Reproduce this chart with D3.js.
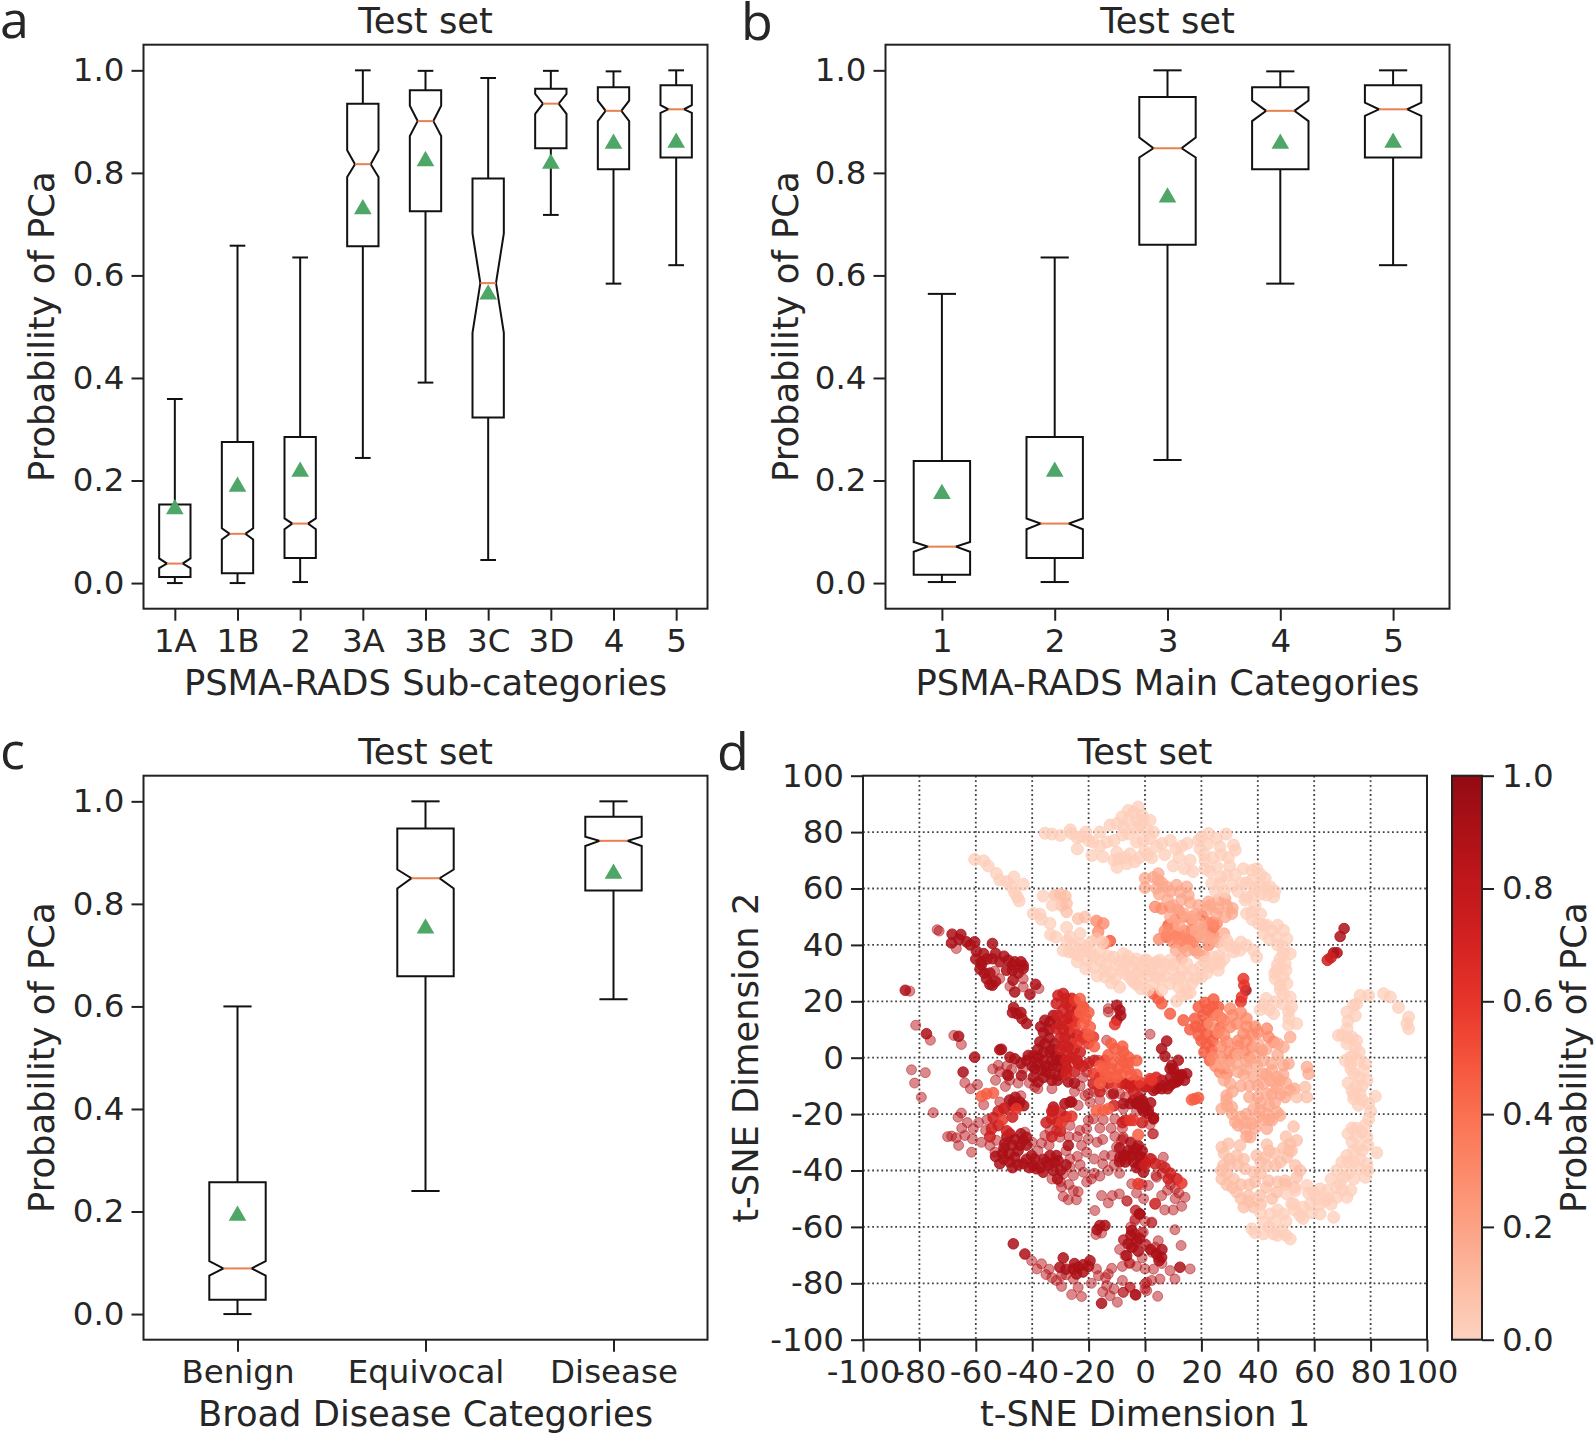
<!DOCTYPE html>
<html><head><meta charset="utf-8">
<script src="https://cdn.jsdelivr.net/npm/d3@7"></script>
<style>html,body{margin:0;padding:0;background:#fff;overflow:hidden}svg{display:block}text{font-family:"DejaVu Sans";fill:#262626}.letter{font-family:"Open Sans"}</style>
</head><body><svg id="c" width="1594" height="1434"></svg>
<script>
// box stats columns: whisker low, q1, notch low, median, notch high, q3, whisker high, mean
const subCategories=["1A","1B","2","3A","3B","3C","3D","4","5"];
const subStats=[
[0.0,0.012,0.029,0.038,0.048,0.153,0.359,0.146],
[0.0,0.019,0.085,0.096,0.107,0.275,0.658,0.19],
[0.002,0.049,0.105,0.116,0.126,0.285,0.635,0.219],
[0.244,0.657,0.792,0.817,0.844,0.935,1.0,0.731],
[0.391,0.725,0.872,0.901,0.931,0.961,0.999,0.825],
[0.045,0.323,0.488,0.585,0.682,0.789,0.985,0.565],
[0.718,0.848,0.915,0.935,0.954,0.964,0.999,0.82],
[0.584,0.807,0.901,0.921,0.941,0.967,0.998,0.859],
[0.62,0.83,0.917,0.924,0.932,0.971,1.0,0.861]];
const mainCategories=["1","2","3","4","5"];
const mainStats=[
[0.002,0.016,0.061,0.071,0.08,0.238,0.564,0.176],
[0.002,0.049,0.105,0.116,0.126,0.285,0.635,0.219],
[0.24,0.66,0.83,0.848,0.869,0.948,1.0,0.754],
[0.584,0.807,0.901,0.921,0.941,0.967,0.998,0.859],
[0.62,0.83,0.911,0.924,0.937,0.971,1.0,0.861]];
const broadCategories=["Benign","Equivocal","Disease"];
const broadStats=[
[0.0,0.028,0.075,0.089,0.103,0.257,0.6,0.194],
[0.24,0.659,0.83,0.85,0.867,0.947,1.0,0.754],
[0.614,0.826,0.913,0.923,0.931,0.97,1.0,0.861]];
const probTicks=[0,0.2,0.4,0.6,0.8,1];
const tsneTicks=[-100,-80,-60,-40,-20,0,20,40,60,80,100];

// t-SNE points, grouped by colour level
const palePts=[[-60.4,70.3],[-57.2,69.8],[-55.6,68],[-52.7,65.3],[-51.5,63],[-49,62.4],[-46.5,64.1],[-43.2,61.5],[-47.3,60.6],[-46.2,58.5],[-44.6,55.6],[-45.3,57],
[-39.6,51.1],[-37.3,50.9],[-36.7,49.1],[-36.1,57.3],[-32.8,54.1],[-33.7,47.6],[-33.5,43.6],[-31.6,42.8],[-27.8,46.2],[-26.6,42.8],
[-35.5,79.6],[-33,79.3],[-30,78.8],[-26.5,80.8],[-26,79.5],[-24,74],[-22.5,78.4],[-21,80],[-18.5,76.5],[-16,80],[-13.5,76.5],[-18.8,71.7],[-14.9,71.3],[-10,72.8],[-9.3,70.5],[-9.9,67.5],[-6.4,68.8],[-5.3,72.3],[-3.6,69.5],
[-12.4,82.5],[-10,83],[-7.6,81.9],[-8.2,85.4],[-5.9,87.7],[-2.4,88.9],[-2.9,84.2],[-.6,84.2],[1.8,84.2],[-1.8,82.4],[-5.9,79.4],[-3,76.5],[-.6,77.1],[1.8,77.7],[4.1,74.9],[2.4,70.9],[-.1,73.3],
[-27.6,41.4],[-25.4,39.9],[-23,40.5],[-26.9,37.5],[-23.8,36.3],[-20.7,34.6],[-19.5,37.5],[-20.7,39.3],[-16,34.6],[-14.2,31],[-14.2,28.6],[-11.2,35.7],[-7.7,36.9],[-10,32.8],[-6.5,34],[-7.1,29.8],[-10.7,28],[-3,29.8],[-.6,32.2],[.6,34.6],[2.4,31],[-1.2,27.5],[-1.4,24.5],[-4.1,26.9],[4.1,34],
[-4.1,34],[0,34.6],[1.8,31],[5.3,34.6],[8.9,34.6],[5.3,28],[10.1,31],[8.9,26.3],[12.4,28.6],[14.2,25],[11.2,20.1],[14.8,22.7],[16.6,26.3],[20.1,28.6],[23,32.2],[26.6,33.4],[24.3,35.7],[29,41.7],[27.8,39.3],[31.4,37.5],[36,39.9],[38.5,38.1],[39.6,35.7],[33.7,38.1],[19.5,32.2],[14.8,33.4],
[20.1,78.3],[22.5,79.5],[25.4,77.8],[28.8,79.3],[19.5,74.1],[22.1,75.7],[26.6,74.8],[31.4,75.4],[32,73.6],[21.3,70],[29.6,71],[21.3,67],[25.4,67.7],[29,64.7],[23.7,61.8],[26.6,61.8],[34.9,67],[37.9,66.5],[39.6,67],[34.3,61.8],[37.9,63],[42.6,63.6],[40.8,61.2],[44.4,60.6],[45.6,57],[43.2,57.7],[38.5,58.1],[35.5,55.9],[37.9,51.7],[36,51.1],[40.2,47.6],[43.2,47],[42,44],[46.7,42.8],[49.1,45.2],[50.3,42.2],[49.1,39.3],[51.5,36.9],[47.9,35.1],[49.7,33.4],[46.7,31],[46.2,28],[49.1,28.6],[47.9,25.7],[50.3,26.3],[51.5,21.5],[49.1,22.7],[50.9,16.3],[53.8,12.1],[50.9,11.6],[42,18.6],[46.2,19.8],[40.8,17],[45.6,15.6],
[76.3,22.1],[79.3,22.1],[84.6,22.7],[87,21.5],[89.9,17.8],[93.5,14.4],[93.5,10.3],[92.9,12.1],[74,18.6],[71.6,16.2],[74.6,14.9],[68.6,7.9],[71.6,10.3],[73.4,7.3],[71.6,4.9],[74.6,3.8],[72.8,.2],[75.8,-.9],[78.1,-2.1],
[72.8,-2.1],[77.5,-4.5],[74,-5.7],[78.7,-8],[73.4,-11.6],[76.3,-12.8],[74,-14.6],[79.3,-16.3],[81.7,-13.7],[75.7,-16.9],[79.3,-21.7],[73.4,-24.9],[76.9,-26.4],[78.7,-28.2],[73.4,-29.9],[75.7,-31.7],[82.2,-33.7],[71.6,-34.7],[76.3,-35.9],[78.7,-37.6],[69.8,-37],[75.7,-39.4],[68,-40],[70.4,-42.4],[74,-43],[78.1,-42.4],[69.2,-44.7],[71.6,-49.5],[68,-49.5],[64.5,-47.1],[62.1,-46.5],[57.4,-45.3],[60.9,-50],[63.9,-50.7],[66.9,-56.6],[62.1,-55.4],[58.6,-51.8],[55,-56],[52,-51.8],[49.1,-55.4],[44.4,-55.4],[42,-58.3],[37.9,-60.7],[42,-62.5],[45.6,-62.5],[51.5,-64.3],[48.5,-61.3],[52.7,-51.8],[53.3,-47.1],[50.3,-48.3]];
const palePtsB=[[-25,37],[-22,38],[-24,34],[-21,31.5],[-18,36],[-18,32],[-16,37.5],[-13,36],[-14,33],[-12,30],[-12,26.5],[-9,34],[-8,31],[-5,32],[-3,35],[-5,28],[-2,31],[-3,26],[1,29],[3,33],[4,28.5],[6,31],[7,33],[3,26],[6,24],[7,29],[10,33],[11,28],[13,31],[12,25],[15,29],[17,31],[13,22],[16,23],[18,28],[22,30],[24,33],[21,34],[26,36],[28,35],[30,40],[32,39],[34,41],[26,31],[1,24],[-6,36],[-15,41],[-19,41],[-23,44],[-29,38],[-17,29],[-9,25],
[-6,84],[-4,87],[-1,86],[.5,81],[3,80],[-3,81],[-8,79],[-11,77],[-16,75],[-20,77],[-24,78],[-11,70],[-7,71],[-2,71],[1,72],[6,76],[7,72],[9,77],[11,74],[13,75],[15,76],[12,71],[10,68],[16,70],[14,67],[17,66],
[19,77],[21,72],[24,71],[27,72],[30,68],[23,66],[27,64],[32,65],[28,59],[25,59],[31,61],[33,59],[36,57],[39,60],[41,58],[36,62],[41,65],[43,60],[46,59],[39,54],[41,51],[38,49],[42,47],[45,45],[47,47],[44,42],[47,40],[49,37],[47,33],[46,30],[50,31],[48,24],[49,19],[52,18],[51,14],[44,17],[43,21],
[75,19],[72,13],[70,8],[72,7],[75,6],[74,1],[76,2],[71,-1],[73,-4],[76,-7],[75,-10],[77,-10],[72,-9],[74,-13],[77,-15],[80,-19],[78,-24],[75,-25],[72,-27],[75,-28],[79,-31],[74,-33],[77,-33],[72,-37],[74,-37],[79,-40],[72,-41],[66,-43],[68,-46],[65,-50],[60,-48],[58,-48],[62,-52],[66,-52],[70,-47],[73,-47],[59,-55],[56,-53],[53,-54],[47,-54],[46,-58],[44,-60],[39,-62],[47,-63],[50,-63],[41,-55],[50,-58],[56,-57]];
const peachPts=[[-32,57.6],[-30,58],[-28.2,57.3],[-29.6,54],[-27.8,51.7],[-27.8,54.7],[-23.7,49.3],[-21.3,49.9],[-17.2,42.2],
[27.2,-31.7],[29.6,-30.5],[33.7,-31.1],[32.5,-34.7],[27.8,-38.2],[29,-41.2],[27.2,-43],[31.4,-43],[32.5,-47.7],[36.7,-48.9],[35,-53],[38.5,-53],[35.5,-39.4],[38.5,-40.6],[39.6,-34.7],[42.6,-35.3],[43.2,-38.2],[43.2,-30.8],[46.2,-38.2],[46.8,-47.7],[43.8,-43.6],[40.8,-48.9],[49.1,-32],[51.5,-30.5],[53.8,-29.3],[50.3,-35.3],[53.3,-38.2],[53.8,-42.4],[49.7,-43.6],[52.7,-24.4],[56.8,-10.4],[57.4,-14],[53.8,-14],
[28,-34],[30,-36],[27,-40],[30,-38],[33,-38],[35,-36],[31,-46],[34,-45],[37,-45],[34,-50],[37,-51],[29,-45],[41,-37],[41,-41],[39,-44],[44,-33],[46,-34],[48,-37],[43,-46],[47,-44],[45,-50],[41,-52],[52,-33],[50,-45],[55,-40],[53,-46],[50,-28],[51,-33]];
const salmonPts=[[28.9,-15],[30.2,-9.2],[28.9,-13.4],[27.2,-18.1],[30.8,-17.5],[32,-22.8],[35.5,-25.2],[37.9,-23.4],[38.5,-18.1],[40.8,-18.7],[43.2,-19.9],[46.8,-19.3],[47.9,-20.5],[45,-22.2],[43.2,-25.2],[37.3,-28.2],[32.5,-2.1],[36,-1.5],[39.6,-2.7],[38.5,-6.9],[42,-5.7],[45,-4.5],[49.1,-2.7],[50.9,-2.1],[47.9,-8],[42,-9.2],[43.2,-12.8],[46.8,-11],[49.7,-14],[51.5,-11.6],[58,-5.7],[57.4,-3.3],[46.8,-6.9],[44.4,-8],
[0,63.6],[0,60.3],[4.7,65.3],[4.7,63],[4.1,60],[7.7,60.6],[11.2,61.2],[14.8,60.6],[15.4,57.6],[12.4,58.8],[22.5,55.3],[28.4,56.4],[25.4,51.1],[30.8,51.1],[28.4,49.9],[21.9,52.3],[49.1,3.8],[51.5,7.3],
[29,-17],[31,-20],[34,-21],[36,-20],[33,-24],[36,-23],[40,-21],[42,-22],[44,-17],[41,-16],[46,-16],[44,-22],[39,-25],[36,-28],[40,-14],[37,-10],[35,-6],[33,-5],[30,-3],[27,-2],[33,1],[36,-4],[39,0],[42,-1],[45,-2],[47,1],[43,3],[40,5],[47,5],[49,-6],[46,-9],[43,-6],[40,-10],[37,-14],[31,-12],[28,-8],[34,-10],[50,-9],[48,-13],[45,-13],[53,-11],
[3,64],[6,62],[9,59],[13,56],[16,55],[5,58],[8,56],[10,54],[14,51],[17,50],[19,48],[20,46],[18,51],[12,47],[9,50],[20,43],[18,45],[22,43],[24,42],[26,41],[28,44],[26,53],[23,54],[26,56],[29,54],[31,53],[19,54],[21,36],[19,37],[15,38],[11,38],[13,35]];
const coralPts=[[3.6,53.5],[5.9,52.9],[8.9,53.5],[11.8,52.3],[13.6,50],[16.6,48.8],[10.6,48.8],[16.6,45.2],[18.3,42.8],[16,40.5],[13.6,39.3],[17.7,38.1],[22.5,39.9],[25.4,47.6],[-17.2,48.5],[-14.8,47.6],[-16.6,44.6],[-14.2,40.5],
[26.6,-5.1],[29,-5.7],[30.2,10.9],[34.9,8.5],[31.9,1.4],[37.9,3.8],[43.2,10.3],[43.8,7.3],[45.6,5.6],[41.4,2.6],[29,5.6],[32.5,12.1],[36,13.9],[30.2,17.4],
[8,44],[10,47],[12,44],[14,45],[15,42],[17,41],[12,41],[10,41],[7,45],[5,42],[24,44],[24,48],[22,48],[21,45],[26,9],[28,8],[33,6],[36,6],[38,8],[40,9],[27,4],[30,2],[33,4],[35,2],[27,0],[30,-1],[25,-3],[28,-4],[24,0],[36,11],[39,11],[31,15],[34,16],[28,13],[26,15],[23,12],[37,0]];
const orangePts=[[7.7,42.8],[11.2,43.4],[8.3,47],[14.8,41.7],[23.1,44],[24.3,46.4],[20.1,50.5],[4.7,20.9],[5.9,19.2],[8.9,15.6],[3,22.7],[-12.4,41.4],
[13.6,13.3],[17.7,13.9],[20.1,10.9],[21.9,8.5],[25.4,8.5],[21.3,19.5],[24.3,20.7],[20.7,15.2],[24.3,15.2],[26.6,10.7],[21.9,4.9],[23.7,2.6],
[-10.7,3.2],[-7.7,2],[-5.9,.2],[-7.7,-1.5],[-9.5,-3.9],[-11.8,-2.1],[-14.8,-3.9],[-12.4,-6.9],[-8.3,-5.7],[-2.4,-27.3],[-56.2,-12.8],[-53.8,-12.5],[-58,-13.7],[17.7,-14.6],[18.9,-14.2],[16.6,-14.9],[-17.2,-18.7],[-13,-18.1],[-14.8,-18.7],[-23.1,20.9],[-19.5,10.9],
[18,11],[16,10],[19,8],[22,12],[22,17],[19,18],[24,6],[21,2],[20,6],[24,18],[27,14],[26,18],[23,-1],[-3,-6],[-6,-4],[-9,0],[-12,-4],[-10,-7],[-13,1],[-6,-2],[-3,-1],[-8,4],[-12,5],[-16,-3],[-14,-6],[-16,-9],[-20,8],[-18,4],[-22,18],[-23,16],[-21,14],[-20,16],[-22,12],[-5,-6]];
const redOrangePts=[[34.9,28],[35.1,25.7],[34.3,21.5],[34,19.8],[-10.7,11.8],[-24.9,20.4],[-21.9,18],[-23.7,14.4],[-24.9,10.9],[-18.3,7.3],[-20.1,5],[-21.3,8.5],[-23.7,5.6],[-14.2,-.9],[-16,-6.9],[-18.3,-5.7],[-1.8,-8.6],[1.8,-7.5],[2.4,-8],[-10.7,-9.2],[13,-44.5],[-50.6,-22],[-45.6,-18.1],[-26,-20.8],[-5.3,-22.2],[-4.1,-22.2],[-2.4,-44.7],[-29.6,-22.8]];
const redPts=[[64.7,34.6],[65.9,35.5],[-30.8,22.1],[-29,22.7],[-31.4,19.2],[-26.6,18],[-27.8,19.2],[-26.6,15],[-29,13.3],[-31.4,10.3],[-27.8,11.5],[-28.4,7.3],[-26.6,9.1],[-27.2,3.8],[-27.2,.8],[-23.7,-2.1],[-27.8,-3.9],[-18.3,-9.2],[-5.3,-10.4],[-3.6,-8],[-5.3,-9.2],[-7.1,-9.2],[-32.5,-18.7],[-30,-19.3],[-33.1,-21.7],[-54.4,-25.2],[-53.8,-21.3],[-7,-22.2],[8.3,-43],[11.3,-43],[3.6,-51.8],[1.8,-35.9],[3.6,-37.6],
[-29,17],[-31,15],[-28,21],[-26,21],[-24,17],[-27,14],[-25,13],[-29,10],[-30,7],[-26,6],[-24,8],[-22,7],[-29,4],[-25,3],[-23,2],[-30,3],[-26,0],[-24,-1],[-28,-1],[-22,-3],[-25,-5],[-28,-6],[-18,-1],[-20,-2],[-16,-12],[-13,-9],[-8,-9],[-2,-10],[-4,-12],[1,-10],[-16,-7],[4,-7],[-33,-19],[-31,-23],[-35,-23],[-28,-21],[-30,-26],[-33,-28],[-52,-24],[-55,-28],[-49,-26],[-47,-21],[-50,-18],[-52,-19],[0,-38],[7,-39],[9,-41],[-1,-23],[-8,-23],[-11,-17]];
const darkPts=[[70.6,45.8],[69.2,43],[66.9,37.2],[68.1,37.2],[35.8,23.9],[7.7,5.9],[5.9,3.2],[7.1,.5],[11.8,-.9],[9.5,-2.7],[14.8,-5.7],[12.4,-6.3],[11.2,-8.6],[8.9,-9.8],[5.9,-9.8],[3,-11.6],[0,-10.4],[8.9,-3.9],[-2.9,-16.3],[0,-17.5],[1.2,-19.9],[3,-21.7],[-3,-32.3],[-4.7,-34.7],[-7.1,-34.7],[-8.9,-35.3],[-1.8,-35.3],[-.6,-40.6],[-1.8,-55.4],[-4.7,-61.3],[5.9,-70.8],[4.1,-69.6],[12.4,-74.3],
[-46.7,-15.7],[-44.4,-15.7],[-51.5,-37.6],[-49.7,-30.5],[-47.9,-27],[-50.6,-34],[-46.2,-35.3],[-43.2,-37.6],[-42,-28.2],[-43.2,-29.3],[-44.4,-31.1],[-40.2,-34.7],[-39.6,-38.2],[-38.5,-39.4],[-36.1,-40.6],[-33.7,-34.7],[-31.4,-34.7],[-30.8,-36.5],[-32.5,-40],[-27.2,-31.1],[-2,-55.4],[-16,-59.5],[-14.2,-59.5],[-4.7,-67.2],[-2.4,-68.6],[-6.5,-70.2],
[-26.6,-15.7],[-28.4,-16.3],[-7.7,-34.7],[-4.1,-32.9],[-1.2,-35.3],[-2.4,-31.1],[-5.3,-16.3],[-.6,-16.3],[1.2,-18.7],[3,-21.3],[-46.7,-66],[-42.6,-69.6],[-30.2,-74.3],[-25.4,-74.9],[-23.7,-74.3],[-21.9,-73.4],[-19.5,-72],[-24.3,-76.7],[-15.4,-87.1],[-3.3,-84.1],
[-68.4,43.8],[-65.3,43.7],[-68.6,40.7],[-63.3,41.1],[-60.4,41.1],[-54.1,40.5],[-59.8,37.8],[-57.2,36.9],[-54.1,35.1],[-58.5,31.4],[-56.2,28],[-54.1,25.7],[-51.5,34],[-48.5,34.6],[-46.2,34],[-43.2,32.8],[-43.2,31.6],[-49.1,31],[-46.8,27.5],[-46.2,23.3],[-40.8,22.5],[-38.8,26],[-46.6,17.8],[-45.4,15.6],[-43.6,13.8],[-42,12.1],[-85,23.9],[-77.5,8.5],[-66.1,7.6],[-60.4,.2],[-51.5,2.8],[-64.5,-5.1],
[-10,18.6],[-8.9,16.8],[-8.6,15],[-10,13.3],[-35.5,13.3],[-33.7,12.7],[-32.5,15],[-37.3,5.6],[-35.5,5],[-39.6,.8],[-41.4,.8],[-37.9,.2],[-47.9,.2],[-46.2,-.4],[-50.9,3],[-39.1,-3.9],[-36.7,-4.5],[-33.7,-5.7],[-30.8,-6.3],[-39.6,-6.9],[-37.9,-8.6],[-32.6,-2.7],[-27.2,-8.6],[-43.8,-6.3],[-48.5,-6.3],[-30.2,-.9],[-32,.8],[-33.7,2],[-11.2,-12.8],[-7.7,-16.3],[-3,-16.3],[-32.5,-17.5],[-26,-15.7],
[-50,-36],[-48,-37],[-47,-39],[-45,-38],[-42,-36],[-41,-39],[-37,-39],[-35,-37],[-36,-36],[-34,-38],[-28,-38],[-30,-40],[-45,-33],[-47,-31],[-49,-28],[-46,-29],[-44,-27],[-42,-31],[-48,-34],[-39,-36],[-32,-37],[-50,-32],[-53,-35],[-31,-43],
[-7,-37],[-4,-37],[-2,-38],[-6,-33],[-9,-32],[-3,-39],[0,-37],[-1,-33],[-5,-30],[-9,-37],
[-47,-17],[-45,-17],[-43,-17],[-48,-15],[-46,-14],
[-38,-2],[-36,-1],[-35,-3],[-33,-1],[-31,-3],[-29,-5],[-36,-7],[-33,-8],[-31,-8],[-35,-5],[-40,-3],[-42,-1],[-44,-2],[-38,3],[-36,2],[-34,7],[-36,9],[-32,5],[-30,0],[-28,-3],[-33,3],[-31,12],[-34,10],[-37,11],[-25,-9],
[2,-9],[4,-11],[6,-11],[8,-11],[10,-9],[12,-8],[13,-6],[11,-6],[9,-7],[6,-8],[14,-8],[10,-4],[-2,-14],[-1,-15],[-4,-15],[2,-16],[-.5,-19],[-1,-18],
[-60,35],[-58,34],[-56,35],[-53,37],[-50,36],[-47,33],[-44,34],[-45,30],[-47,31],[-55,30],[-57,30],[-53,27],[-55,26],[-58,33],[-62,40],[-66,42],[-47,16],[-44,16],[-25,-73],[-28,-75],[-22,-76],[-20,-74],[-29,-71],[-3,-65],[-5,-63],[-2,-64],[-6,-66],[2,-68],[5,-72],[6,-68],[-17,-61]];
const translucentPts=[[-73.7,45.4],[-73,44.9],[-66.9,38.7],[-53.3,30.7],[-51.5,28],[-43.2,28],[-47.9,25.3],[-43.2,25.1],[-37.6,24.5],[-83.4,23.6],[-81.3,11.5],[-76.1,6.2],[-67.8,7.9],[-65.1,4.7],[-52,-2.7],[-13,17.4],[-13,16.2],[1.8,8.3],[-13.6,6.2],[-16.6,-.9],[-20.7,-5.1],[-14.8,-10.4],[-8.9,-12.8],[-20.1,-12.8],[-39.1,-10.4],[-43.2,-3.9],[-51.5,-5],
[1.8,-23.7],[3,-27],[-7.7,-28.8],[2.4,-35.9],[6.5,-35.3],[5.9,-38.2],[4.1,-42.4],[-4.7,-44.7],[1.2,-45.3],[10.7,-46.5],[14.2,-49.5],[10.7,-50],[13,-52.7],[5.9,-48.9],[-6.5,-50.7],[-3.5,-54.2],[-3.5,-57.2],[2.4,-58.3],[10.6,-61],[-1.2,-61.9],[-7.7,-64.6],[4.7,-64.9],[-4.1,-67.2],[0,-66],[2.4,-69],[-7.1,-70.2],[-5.3,-72.9],[12.8,-66.6],[0,-74.9],[16,-74.9],[8.9,-75.5],[10.6,-78.5],[5.3,-78.5],[2.4,-79],[0,-80.2],[.6,-82.6],[-5.3,-81.4],[-7.7,-83.2],[-3.5,-84],[4.5,-84.6],
[-82.8,-4.3],[-77.9,-5.3],[-81.7,-9],[-79.3,-14],[-75.1,-19.5],[-66.3,-21.1],[-65.1,-19.6],[-63.9,-8.9],[-61.9,-11],[-59.4,-9.5],[-57.2,-16.7],[-68.6,-27.8],[-66.9,-28.4],[-66.1,-31.1],[-63.9,-27.6],[-60.9,-25.2],[-61.2,-28.8],[-61.5,-33.5],[-56.5,-25.8],[-51.5,-15.7],[-49.5,-18.1],[-55,-31.1],[-52.7,-29.3],[-53.2,-33.5],[-42.6,-26.4],[-36.7,-30.3],[-26.6,-35.9],[-26.6,-38.8],[-25.4,-41.8],[-29,-41.2],[-21.9,-40.6],[-20.7,-44.1],[-19,-43],[-29.6,-45.9],[-29,-49.2],[-27.2,-50.4],[-24.3,-50.4],[-23.7,-47.5],[-25.4,-47.1],[-17.8,-54.2],[-15.4,-48.9],[-13,-51.5],[-11.6,-48.9],[-9.1,-48.3],[-6.3,-50.9],[-3.2,-54],[-3.6,-57.8],[2.4,-58.6],[-17.4,-62.7],[-15.4,-62.2],[-.6,-61.9],[-3.6,-62.5],[-7.5,-64.6],[.4,-66.3],[-5.6,-72.9],[3.6,-67.2],[4.7,-70.8],
[-26.6,-24],[-33.7,-25.8],[-31.4,-25.8],[-35.5,-27.6],[-30.2,-28.2],[-23.1,-25.8],[-20.1,-22.2],[-20.7,-25.2],[-20.1,-28.8],[-22.5,-31.1],[-20.7,-33.5],[-18,-35.9],[-14.4,-34.7],[-15,-37.6],[-21.3,-13.4],[-19.5,-15.7],[-23.7,-16.9],[-10.7,-21.7],[-14.8,-22],[-18.3,-21.7],[-10.7,-27.9],[-7.7,-28.2],[-8.3,-29.3],[2.7,-27],[-11.8,-34.7],[-10.1,-31.7],[-5.9,-35.9],[3.9,-41.8],[-7.7,-18.1],
[-40.2,-72],[-36.7,-73.1],[-38.3,-74.9],[-35.1,-76.9],[-31.4,-79],[-29.6,-77.3],[-29.6,-81.1],[-25.4,-78.5],[-23.7,-81.4],[-22.5,-84.7],[-17.2,-74.9],[-16.5,-77.3],[-13,-76.7],[-11.8,-74.7],[-13.6,-80.8],[-12.4,-84.4],[-9.8,-86.7],[-7.7,-83.2],[-5.3,-81.4],[0,-82],[.6,-79.6],
[-47.3,-4.2],[-44,-13.5],[-49.5,-10.2],
[-54,-4],[-49,-3],[-45,-9],[-53,-8],[-48,-8],[-49,-6],[-41,-9],[-38,-11],[-33,-11],[-25,-12],[-23,-10],[-22,-7],[-18,-12],[-16,-15],[-12,-13],[-7,-14],[-3,-19],[-8,-25],[-12,-25],[-16,-25],[-17,-30],[-15,-29],[-24,-28],[-27,-28],[-38,-33],[-40,-30],[-34,-31],[-28,-33],[-24,-35],[-23,-38],[-30,-44],[-27,-45],[-33,-43],[-18,-41],[-16,-42],[-13,-40],[-11,-38],[-9,-41],[6,-41],[9,-45],[12,-48],[7,-54],[10,-54],[8,-47],[-1,-45],[-.5,-50],[-3,-48],[-5,-60],[0,-58],[-9,-68],[-8,-74],[-1,-71],[-3,-74],[3,-75],[6,-73],[-8,-79],[-11,-82],[-14,-78],[-15,-83],[-19,-80],[-26,-84],[-28,-77],[-33,-78],[-34,-75],[-59,-23],[-63,-23],[-58,-30],[-56,-22],[-65,-25],[-70,-28]];
const scatterSeries=[translucentPts,darkPts,redPts,redOrangePts,orangePts,coralPts,salmonPts,peachPts,palePts,palePtsB];
const scatterProbs=[0.86,0.9,0.74,0.6,0.46,0.3,0.18,0.09,0.02,0.02];
const scatterAlpha=[0.5,0.85,0.85,0.85,0.85,0.8,0.75,0.75,0.75,0.75];
const scatterRadius=[5,5.3,5.5,5.5,5.6,5.8,5.8,5.8,6,6];

const svg=d3.select("#c");
const ink="#222";
const redsPos=d3.scaleLinear().domain([0,.4,.6,.8,1]).range([.17,.48,.65,.78,.91]);
const color=p=>d3.interpolateReds(redsPos(p));
const TICK=12,FS=32.5,LFS=35.3;

function frame(g,w,h){g.append("rect").attr("width",w).attr("height",h).attr("fill","none").attr("stroke",ink).attr("stroke-width",2);}
function styleAxis(a){a.select(".domain").remove();a.selectAll("line").attr("stroke",ink).attr("stroke-width",2);a.selectAll("text").attr("font-size",FS).attr("fill","#262626").attr("font-family","DejaVu Sans");}
function text(x,y,s,size,rot){const t=svg.append("text").attr("text-anchor","middle").attr("font-size",size).text(s);
 if(rot)t.attr("transform",`translate(${x},${y}) rotate(-90)`);else t.attr("x",x).attr("y",y);return t;}

function boxPanel(L,T,cats,stats,boxW,title,xlabel,ylabelX,titleY,tickPad){
 const W=564,H=564;
 const g=svg.append("g").attr("transform",`translate(${L},${T})`);
 const y=d3.scaleLinear().domain([-0.05,1.05]).range([H,0]);
 const x=d3.scaleLinear().domain([0.5,cats.length+0.5]).range([0,W]);
 stats.forEach((s,i)=>{
  const [wl,q1,nl,med,nh,q3,wh,mean]=s;const c=i+1;const h=boxW/2;
  const bg=g.append("g").attr("fill","none").attr("stroke","#111").attr("stroke-width",2);
  bg.append("line").attr("x1",x(c)).attr("x2",x(c)).attr("y1",y(wl)).attr("y2",y(q1));
  bg.append("line").attr("x1",x(c)).attr("x2",x(c)).attr("y1",y(q3)).attr("y2",y(wh));
  [wl,wh].forEach(v=>bg.append("line").attr("x1",x(c-h/2)).attr("x2",x(c+h/2)).attr("y1",y(v)).attr("y2",y(v)));
  const pts=[[c-h,q1],[c+h,q1],[c+h,nl],[c+h/2,med],[c+h,nh],[c+h,q3],[c-h,q3],[c-h,nh],[c-h/2,med],[c-h,nl]];
  bg.append("path").attr("d",d3.line().x(d=>x(d[0])).y(d=>y(d[1]))(pts)+"Z");
  g.append("line").attr("x1",x(c-h/2)).attr("x2",x(c+h/2)).attr("y1",y(med)).attr("y2",y(med)).attr("stroke","#e8814f").attr("stroke-width",2);
  g.append("path").attr("d",d3.symbol(d3.symbolTriangle,135)()).attr("transform",`translate(${x(c)},${y(mean)+1})`).attr("fill","#4ea667");
 });
 frame(g,W,H);
 styleAxis(g.append("g").call(d3.axisLeft(y).tickValues(probTicks).tickFormat(d3.format(".1f")).tickSize(TICK).tickPadding(7)));
 styleAxis(g.append("g").attr("transform",`translate(0,${H})`).call(d3.axisBottom(x).tickValues(cats.map((d,i)=>i+1)).tickFormat((d,i)=>cats[i]).tickSize(TICK).tickPadding(tickPad)));
 text(L+W/2,titleY,title,LFS);
 text(L+W/2,T+H+86,xlabel,LFS);
 text(ylabelX,T+H/2,"Probability of PCa",LFS,true);
}
boxPanel(143.5,44.7,subCategories,subStats,0.5,"Test set","PSMA-RADS Sub-categories",54,33,8);
boxPanel(885.5,44.7,mainCategories,mainStats,0.5,"Test set","PSMA-RADS Main Categories",798,33,8);
boxPanel(143.5,775.7,broadCategories,broadStats,0.3,"Test set","Broad Disease Categories",54,764,8);

// panel d
(function(){
 const L=863,T=775.7,W=564,H=564;
 const g=svg.append("g").attr("transform",`translate(${L},${T})`);
 const x=d3.scaleLinear().domain([-100,100]).range([0,W]);
 const y=d3.scaleLinear().domain([-100,100]).range([H,0]);
 const grid=g.append("g").attr("stroke","#444").attr("stroke-width",1.8).attr("stroke-dasharray","1.8 2.8");
 tsneTicks.slice(1,-1).forEach(t=>{
  grid.append("line").attr("x1",x(t)).attr("x2",x(t)).attr("y1",0).attr("y2",H);
  grid.append("line").attr("y1",y(t)).attr("y2",y(t)).attr("x1",0).attr("x2",W);
 });
 scatterSeries.forEach((pts,i)=>{
  const c=color(scatterProbs[i]);
  g.append("g").selectAll("circle").data(pts).join("circle")
   .attr("cx",d=>x(d[0])).attr("cy",d=>y(d[1])).attr("r",scatterRadius[i])
   .attr("fill",c).attr("fill-opacity",scatterAlpha[i]).attr("stroke",c).attr("stroke-opacity",scatterAlpha[i]).attr("stroke-width",1);
 });
 frame(g,W,H);
 styleAxis(g.append("g").call(d3.axisLeft(y).tickValues(tsneTicks).tickFormat(d=>String(d)).tickSize(TICK).tickPadding(7)));
 styleAxis(g.append("g").attr("transform",`translate(0,${H})`).call(d3.axisBottom(x).tickValues(tsneTicks).tickFormat(d=>String(d)).tickSize(TICK).tickPadding(8)));
 text(L+W/2,764,"Test set",LFS);
 text(L+W/2,T+H+86,"t-SNE Dimension 1",LFS);
 text(758,T+H/2,"t-SNE Dimension 2",LFS,true);
 const CX=1452,CW=30;
 const cs=d3.scaleLinear().domain([0,1]).range([H,0]);
 const lg=svg.append("defs").append("linearGradient").attr("id","cb").attr("x1",0).attr("x2",0).attr("y1",1).attr("y2",0);
 d3.range(0,1.001,0.05).forEach(p=>lg.append("stop").attr("offset",p).attr("stop-color",color(p)));
 const cg=svg.append("g").attr("transform",`translate(${CX},${T})`);
 cg.append("rect").attr("width",CW).attr("height",H).attr("fill","url(#cb)").attr("stroke",ink).attr("stroke-width",2);
 styleAxis(cg.append("g").attr("transform",`translate(${CW},0)`).call(d3.axisRight(cs).tickValues(probTicks).tickFormat(d3.format(".1f")).tickSize(TICK).tickPadding(8)));
 text(1586,T+H/2,"Probability of PCa",LFS,true);
})();

[["a",0,38],["b",741,40],["c",0,769],["d",717,770]].forEach(d=>{
 svg.append("text").attr("class","letter").attr("x",d[1]).attr("y",d[2]).attr("font-size",52).text(d[0]);
});
</script></body></html>
